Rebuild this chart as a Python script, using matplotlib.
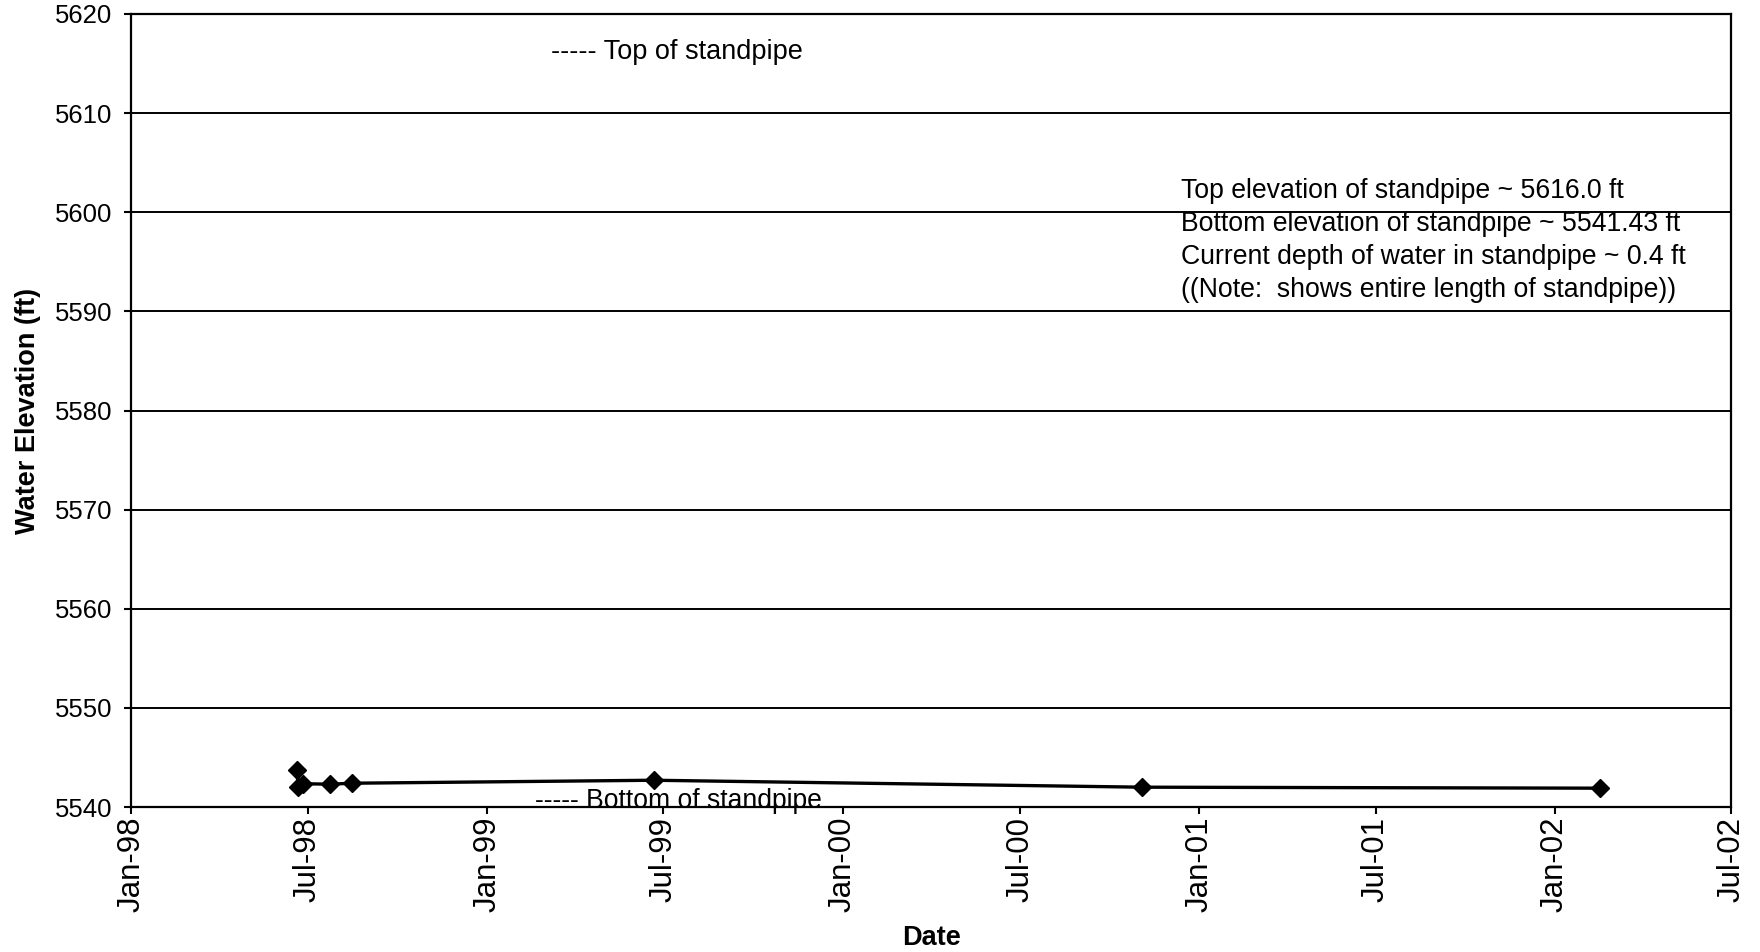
import matplotlib
matplotlib.use("Agg")
import matplotlib.pyplot as plt
import datetime as dt

plt.rcParams['font.family'] = ['Liberation Sans', 'DejaVu Sans']

dates = ["1998-06-20", "1998-06-21", "1998-06-26", "1998-07-24", "1998-08-15",
         "1999-06-21", "2000-11-03", "2002-02-16"]
elevations = [5543.7, 5542.0, 5542.35, 5542.3, 5542.4, 5542.7, 5542.0, 5541.9]

tick_dates = ["1998-01-01", "1998-07-01", "1999-01-01", "1999-07-01", "2000-01-01",
              "2000-07-01", "2001-01-01", "2001-07-01", "2002-01-01", "2002-07-01"]
tick_labels = ["Jan-98", "Jul-98", "Jan-99", "Jul-99", "Jan-00",
               "Jul-00", "Jan-01", "Jul-01", "Jan-02", "Jul-02"]
y_ticks = [5540, 5550, 5560, 5570, 5580, 5590, 5600, 5610, 5620]

notes = ["Top elevation of standpipe ~ 5616.0 ft",
         "Bottom elevation of standpipe ~ 5541.43 ft",
         "Current depth of water in standpipe ~ 0.4 ft",
         "((Note:  shows entire length of standpipe))"]

to_dt = lambda s: dt.datetime.strptime(s, "%Y-%m-%d")
x = [to_dt(d) for d in dates]
xt = [to_dt(d) for d in tick_dates]

fig = plt.figure(figsize=(17.6, 9.52), dpi=100)
ax = fig.add_axes([0.0747, 0.1523, 0.909, 0.833])

for yv in y_ticks:
    ax.axhline(yv, color='black', lw=1.4, zorder=1)

ax.plot(x, elevations, color='black', lw=2.4, marker='D', markersize=9.5, zorder=3)

ax.set_xlim(xt[0], xt[-1])
ax.set_ylim(5540, 5620)
ax.set_xticks(xt)
ax.set_xticklabels(tick_labels, rotation=90, fontsize=22.5)
ax.set_yticks(y_ticks)
ax.set_yticklabels([str(v) for v in y_ticks], fontsize=18.5)
ax.tick_params(axis='both', direction='out', length=5, width=1.5, color='black')
ax.tick_params(axis='y', pad=9)
ax.tick_params(axis='x', pad=2)
for sp in ax.spines.values():
    sp.set_linewidth(1.6)
    sp.set_color('black')

ax.set_xlabel("Date", fontsize=19.5, fontweight='bold', labelpad=9)
ax.set_ylabel("Water Elevation (ft)", fontsize=19.5, fontweight='bold', labelpad=10)

ax.text(0.262, 5616.2, "----- Top of standpipe", fontsize=19.5,
        transform=ax.get_yaxis_transform(), va='center', ha='left')
ax.text(0.252, 5539.9, "----- Bottom of standpipe", fontsize=19.1,
        transform=ax.get_yaxis_transform(), va='baseline', ha='left')

y0 = 5602.1
for i, t in enumerate(notes):
    ax.text(0.656, y0 - i * 3.33, t, fontsize=19.2,
            transform=ax.get_yaxis_transform(), va='center', ha='left')

fig.savefig("out.png", dpi=100)
